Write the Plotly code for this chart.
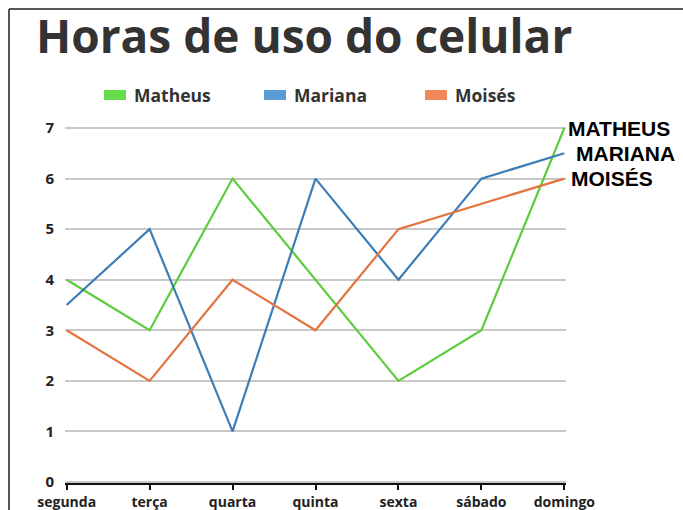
import plotly.graph_objects as go

days = ["segunda", "terça", "quarta", "quinta", "sexta", "sábado", "domingo"]
matheus = [4, 3, 6, 4, 2, 3, 7]
mariana = [3.5, 5, 1, 6, 4, 6, 6.5]
moises = [3, 2, 4, 3, 5, 5.5, 6]
y_ticks = [0, 1, 2, 3, 4, 5, 6, 7]
series_names = ["Matheus", "Mariana", "Moisés"]
end_labels = ["MATHEUS", "MARIANA", "MOISÉS"]
line_colors = ["#5ccc3c", "#3b7db4", "#e4743f"]
swatch_colors = ["#66dd4c", "#5b9bd5", "#f0875a"]

W, H = 683, 510
L, R, T, B = 65, 117, 126, 27
pw, ph = W - L - R, H - T - B

def px_x(px):
    return (px - L) / pw

def px_y(py):
    return (H - B - py) / ph

fig = go.Figure()
xs = list(range(len(days)))
for name, vals, col in zip(series_names, [matheus, mariana, moises], line_colors):
    fig.add_trace(go.Scatter(x=xs, y=vals, mode="lines", name=name,
                             line=dict(color=col, width=2.2), showlegend=False))

# end labels
shifts = [2, 10, 5]
for lab, vals, sh in zip(end_labels, [matheus, mariana, moises], shifts):
    fig.add_annotation(x=xs[-1], y=vals[-1], xref="x", yref="y", text=lab,
                       showarrow=False, xanchor="left", yanchor="middle", xshift=sh,
                       font=dict(family="Liberation Sans", size=21, color="#000000", weight="bold"))

# manual legend
leg_x = [104, 264, 425]
leg_y = 95
shapes = []
for name, sc, lx in zip(series_names, swatch_colors, leg_x):
    shapes.append(dict(type="rect", xref="paper", yref="paper",
                       x0=px_x(lx), x1=px_x(lx + 22), y0=px_y(leg_y + 5), y1=px_y(leg_y - 5),
                       fillcolor=sc, line=dict(width=0)))
    fig.add_annotation(x=px_x(lx + 28), y=px_y(leg_y), xref="paper", yref="paper", text=name,
                       showarrow=False, xanchor="left", yanchor="middle",
                       font=dict(family="Open Sans", size=17.5, color="#333333", weight="bold"))

# frame
shapes.append(dict(type="line", xref="paper", yref="paper", x0=px_x(9), x1=px_x(W + 5),
                   y0=px_y(9), y1=px_y(9), line=dict(color="#555555", width=2)))
shapes.append(dict(type="line", xref="paper", yref="paper", x0=px_x(9), x1=px_x(9),
                   y0=px_y(9), y1=px_y(H + 5), line=dict(color="#555555", width=2)))

fig.update_layout(
    width=W, height=H,
    margin=dict(l=L, r=R, t=T, b=B),
    paper_bgcolor="white", plot_bgcolor="white",
    shapes=shapes,
    title=dict(text="Horas de uso do celular", x=36 / W, xanchor="left",
               y=1 - 37 / H, yanchor="middle", yref="container",
               font=dict(family="Open Sans", size=46, color="#333333", weight="bold")),
    xaxis=dict(tickvals=xs, ticktext=days, range=[-0.02, 6.02], showgrid=False,
               showline=True, linecolor="#111111", linewidth=2, ticks="outside",
               ticklen=5, tickwidth=1.5, tickcolor="#111111", zeroline=False,
               automargin=False, ticklabelstandoff=0,
               tickfont=dict(family="Open Sans", size=14, color="#222222", weight="bold")),
    yaxis=dict(tickvals=y_ticks, range=[-0.02, 7.04], showgrid=True, gridcolor="#c8c8c8",
               gridwidth=1.5, zeroline=False, showline=False, ticks="", ticklabelstandoff=10,
               automargin=False,
               tickfont=dict(family="Open Sans", size=15, color="#222222", weight="bold")),
)

fig.write_html("out.html", config={"displayModeBar": False},
               post_script="document.body.style.margin='0';")
